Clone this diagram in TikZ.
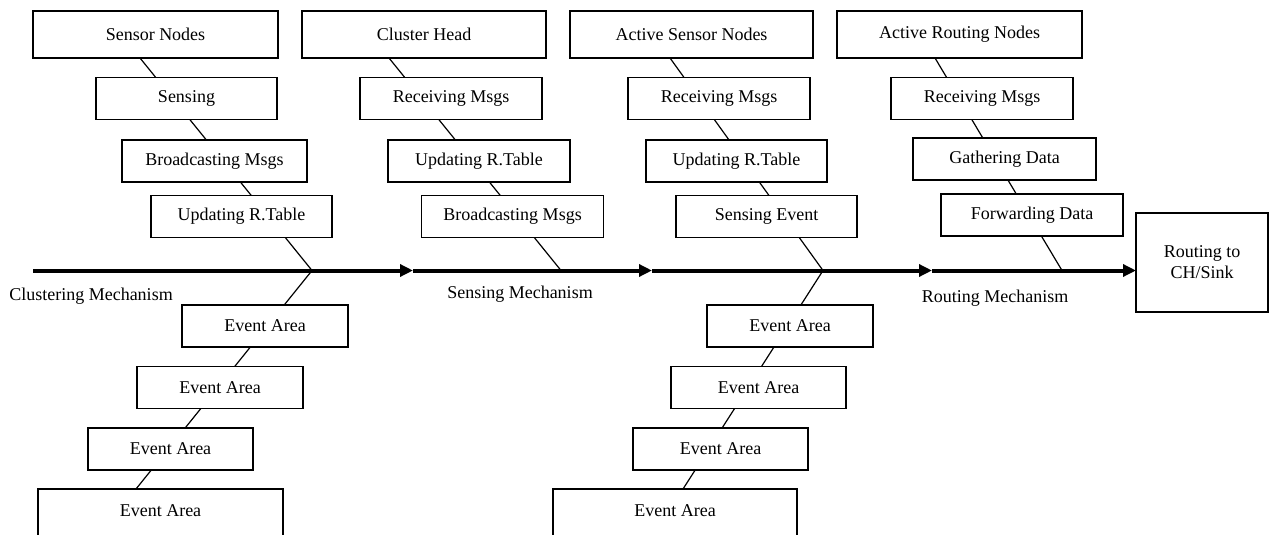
\documentclass[tikz,border=0pt]{standalone}
\usepackage{fontspec}
\setmainfont{Liberation Serif}
\usetikzlibrary{arrows.meta,calc,backgrounds}
\begin{document}
\begin{tikzpicture}[x=1pt,y=-1pt,
  box/.style={draw=black, line width=1.3pt, fill=white, inner sep=0pt, outer sep=0pt,
              font=\fontsize{18}{21}\selectfont, minimum height=42pt},
  wide/.style={box, minimum width=245pt, minimum height=47pt},
  mid/.style={box, minimum width=182pt},
  ea/.style={box, minimum width=166pt},
  eabig/.style={box, anchor=north, text height=19pt, text depth=60pt, inner ysep=8pt},
  bone/.style={line width=1.2pt, draw=black},
  spine/.style={line width=4pt, draw=black, -{Triangle[length=13pt,width=12pt]}},
  lab/.style={font=\fontsize{18}{21}\selectfont, inner sep=0pt, anchor=base}]
\useasboundingbox (0,0) rectangle (1271,535);

% column 1
\node[wide] (sn) at (155.5,34.5) {Sensor Nodes};
\node[mid, minimum width=181pt] (sen) at (186.5,98.5) {Sensing};
\node[mid, minimum width=185pt] (bm1) at (214.5,161) {Broadcasting Msgs};
\node[mid, minimum width=181pt] (ur1) at (241.5,216.5) {Updating R.Table};
% column 2
\node[wide, minimum width=244pt] (ch) at (424,34.5) {Cluster Head};
\node[mid] (rm2) at (451,98.5) {Receiving Msgs};
\node[mid] (ur2) at (479,161) {Updating R.Table};
\node[mid, minimum width=182pt] (bm2) at (512.5,216.5) {Broadcasting Msgs};
% column 3
\node[wide, minimum width=243pt] (asn) at (691.5,34.5) {Active Sensor Nodes};
\node[mid] (rm3) at (719,98.5) {Receiving Msgs};
\node[mid, minimum width=181pt] (ur3) at (736.5,161) {Updating R.Table};
\node[mid, minimum width=181pt] (se3) at (766.5,216.5) {Sensing Event};
% column 4
\node[wide] (arn) at (959.5,34.5) {Active Routing Nodes};
\node[mid] (rm4) at (982,98.5) {Receiving Msgs};
\node[mid, minimum width=183pt] (gd4) at (1004.5,159) {Gathering Data};
\node[mid] (fd4) at (1032,215) {Forwarding Data};
% sink
\node[box, minimum width=132pt, minimum height=99pt, align=center] (sink) at (1202,262.5) {Routing to\\CH/Sink};
% bottom left
\node[ea] (ea1) at (265,326) {Event Area};
\node[ea] (ea2) at (220,387.5) {Event Area};
\node[ea, minimum width=165pt] (ea3) at (170.5,449) {Event Area};
\node[eabig, minimum width=245pt] (ea4) at (160.5,489) {Event Area};
% bottom right
\node[ea] (ea5) at (790,326) {Event Area};
\node[ea, minimum width=175pt] (ea6) at (758.5,387.5) {Event Area};
\node[ea, minimum width=175pt] (ea7) at (720.5,449) {Event Area};
\node[eabig, minimum width=244pt] (ea8) at (675,489) {Event Area};

% spine
\coordinate (s0) at (33,270.5);
\coordinate (a1) at (413,270.5);
\coordinate (a2) at (652,270.5);
\coordinate (a3) at (932,270.5);
\coordinate (j1) at (312,270.5);
\coordinate (j2) at (561,270.5);
\coordinate (j3) at (823,270.5);
\coordinate (j4) at (1062,270.5);

\begin{scope}[on background layer]
\draw[bone] (j1) -- ($(sn.south west)+(107,0)$);
\draw[bone] (j2) -- ($(ch.south west)+(87,0)$);
\draw[bone] (j3) -- ($(asn.south west)+(100,0)$);
\draw[bone] (j4) -- ($(arn.south west)+(98,0)$);
\draw[bone] (j1) -- ($(ea4.north west)+(98,0)$);
\draw[bone] (j3) -- ($(ea8.north west)+(130,0)$);
\end{scope}

\draw[spine] (s0) -- (a1);
\draw[spine] (a1) -- (a2);
\draw[spine] (a2) -- (a3);
\draw[spine] (a3) -- (sink.west |- s0);

\node[lab] (lc) at (91,300) {Clustering Mechanism};
\node[lab] (ls) at (520,298) {Sensing Mechanism};
\node[lab] (lr) at (995,302) {Routing Mechanism};
\end{tikzpicture}
\end{document}
